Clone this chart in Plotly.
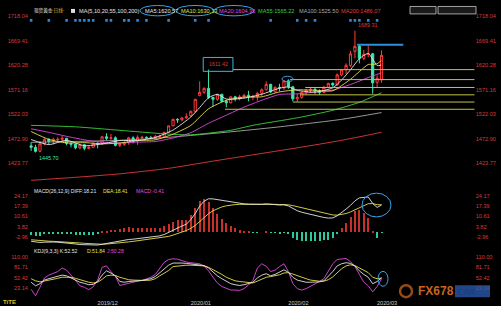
import plotly.graph_objects as go

W, H = 501, 311

# ---------------- data ----------------
bar_index = list(range(80))  # 2019-11-11 ... 2020-03-03, one bar per trading day

opens = [1459, 1456, 1448, 1463, 1472, 1468, 1471, 1472, 1474, 1464,
         1462, 1455, 1461, 1454, 1456, 1464, 1463, 1477, 1474, 1475,
         1460, 1462, 1465, 1475, 1469, 1475, 1476, 1475, 1474, 1477,
         1478, 1486, 1499, 1512, 1511, 1515, 1519, 1528, 1560, 1566,
         1574, 1556, 1552, 1562, 1548, 1545, 1557, 1553, 1557, 1560,
         1557, 1558, 1564, 1571, 1582, 1567, 1576, 1575, 1589, 1577,
         1553, 1556, 1566, 1570, 1572, 1568, 1566, 1576, 1584, 1581,
         1601, 1611, 1620, 1648, 1658, 1634, 1642, 1643, 1586, 1591]
highs = [1466, 1461, 1468, 1474, 1474, 1475, 1476, 1479, 1475, 1466,
         1464, 1463, 1463, 1458, 1466, 1466, 1479, 1484, 1483, 1478,
         1465, 1468, 1477, 1478, 1480, 1479, 1478, 1479, 1481, 1481,
         1487, 1499, 1513, 1514, 1516, 1524, 1529, 1553, 1588, 1576,
         1611.42, 1557, 1563, 1563, 1551, 1558, 1559, 1561, 1563, 1569,
         1561, 1567, 1574, 1588, 1583, 1578, 1583, 1590, 1592, 1578,
         1563, 1567, 1573, 1576, 1575, 1572, 1579, 1585, 1586, 1604,
         1612, 1624, 1649, 1689.31, 1661, 1651, 1660, 1645, 1600, 1650]
lows = [1449, 1445.70, 1446, 1460, 1462, 1462, 1466, 1467, 1460, 1456,
        1452, 1452, 1450, 1452, 1455, 1454, 1462, 1470, 1471, 1458,
        1456, 1459, 1461, 1464, 1461, 1472, 1473, 1472, 1471, 1474,
        1477, 1485, 1498, 1505, 1508, 1513, 1517, 1525, 1558, 1563,
        1553, 1537, 1549, 1546, 1536, 1544, 1548, 1550, 1556, 1548,
        1550, 1549, 1559, 1570, 1564, 1565, 1568, 1571, 1573, 1548,
        1547, 1553, 1561, 1566, 1563, 1561, 1565, 1574, 1577, 1579,
        1598, 1603, 1617, 1634, 1624, 1630, 1636, 1563, 1575, 1585]
closes = [1456, 1448, 1463, 1472, 1468, 1472, 1472, 1474, 1464, 1462,
          1455, 1461, 1454, 1456, 1464, 1463, 1477, 1474, 1475, 1460,
          1462, 1465, 1475, 1469, 1476, 1476, 1475, 1474, 1478, 1478,
          1486, 1499, 1512, 1511, 1515, 1517, 1528, 1552, 1566, 1574,
          1556, 1552, 1562, 1548, 1545, 1557, 1553, 1557, 1560, 1558,
          1558, 1564, 1571, 1582, 1567, 1576, 1575, 1589, 1577, 1553,
          1556, 1566, 1570, 1572, 1568, 1566, 1576, 1584, 1581, 1601,
          1611, 1620, 1643, 1658, 1634, 1642, 1643, 1585, 1594, 1640]

# moving averages read at sampled bars
ma5_idx = [0, 4, 8, 12, 16, 20, 24, 28, 32, 36, 38, 40, 42, 44, 48, 52, 56, 58, 60, 64, 68, 70, 72, 74, 76, 77, 78, 79]
ma5 = [1471.6, 1461.4, 1470.0, 1459.2, 1462.8, 1469.6, 1469.4, 1475.8, 1490.6, 1516.6, 1535.6, 1555.2, 1562.0, 1552.6,
       1554.4, 1562.2, 1574.2, 1576.8, 1570.0, 1566.4, 1575.0, 1590.6, 1611.2, 1633.2, 1644.0, 1632.4, 1619.6, 1620.57]
ma10_idx = [0, 4, 8, 12, 16, 20, 24, 28, 32, 36, 40, 44, 48, 52, 56, 60, 64, 68, 72, 76, 77, 78, 79]
ma10 = [1487.6, 1471.8, 1464.8, 1465.4, 1463.0, 1464.6, 1469.6, 1471.0, 1482.3, 1499.8, 1533.0, 1550.0, 1556.4,
        1557.1, 1566.8, 1571.0, 1570.2, 1569.2, 1592.2, 1621.7, 1621.8, 1623.1, 1630.13]
ma20_idx = [0, 4, 8, 12, 16, 19, 24, 28, 32, 36, 40, 44, 48, 52, 56, 60, 64, 68, 72, 76, 79]
ma20 = [1493, 1486, 1478, 1471, 1466, 1464.5, 1466.5, 1467.6, 1474.7, 1485.3, 1504.1, 1520.2, 1536.4, 1550.2,
        1561.7, 1563.0, 1566.5, 1570.5, 1581.7, 1595.5, 1604.95]
ma55_idx = [0, 10, 20, 30, 36, 45, 50, 60, 68, 74, 79]
ma55 = [1500, 1497, 1490, 1483, 1481, 1490, 1500, 1515, 1530, 1546, 1565.22]
ma100_idx = [0, 20, 31, 45, 55, 70, 79]
ma100 = [1466, 1470, 1476, 1487, 1496, 1512, 1525.50]
ma200_idx = [0, 10, 20, 31, 40, 50, 60, 70, 79]
ma200 = [1390, 1396, 1403, 1414, 1427, 1441, 1455, 1470, 1486.07]

# MACD(26,12,9)
diff = [-6.0, -6.6, -6.8, -6.6, -6.4, -6.5, -6.6, -6.8, -7.0, -7.4,
        -7.8, -8.2, -8.4, -8.6, -8.7, -8.5, -8.0, -7.4, -6.9, -6.6,
        -6.0, -5.4, -4.8, -4.6, -4.2, -3.9, -3.6, -3.3, -2.9, -2.4,
        -1.5, 0.0, 1.6, 3.0, 4.2, 5.4, 8.5, 12.5, 17.5, 20.8,
        22.4, 22.3, 21.8, 21.2, 20.6, 20.3, 19.8, 19.3, 19.0, 18.8,
        18.6, 18.6, 18.7, 19.0, 18.5, 18.5, 18.2, 18.4, 17.6, 15.8,
        14.4, 13.4, 12.6, 11.9, 11.2, 10.5, 9.9, 9.5, 9.6, 11.0,
        13.0, 15.5, 18.0, 21.0, 23.0, 23.3, 23.6, 19.3, 16.6, 18.21]
dea = [-5.0, -5.32, -5.62, -5.82, -5.94, -6.05, -6.16, -6.29, -6.43, -6.62,
       -6.86, -7.13, -7.38, -7.62, -7.84, -7.97, -7.98, -7.86, -7.67, -7.46,
       -7.17, -6.82, -6.42, -6.06, -5.69, -5.33, -4.98, -4.64, -4.29, -3.91,
       -3.43, -2.74, -1.87, -0.90, 0.12, 1.18, 2.64, 4.61, 7.19, 9.91,
       12.41, 14.39, 15.87, 16.94, 17.67, 18.20, 18.52, 18.68, 18.74, 18.75,
       18.72, 18.70, 18.70, 18.76, 18.71, 18.67, 18.58, 18.54, 18.35, 17.84,
       17.15, 16.40, 15.64, 14.89, 14.15, 13.42, 12.72, 12.07, 11.58, 11.46,
       11.77, 12.52, 13.61, 15.09, 16.67, 18.00, 19.12, 19.16, 18.45, 18.41]
macd_hist = [-2.0, -2.6, -2.4, -1.6, -0.9, -0.9, -0.9, -1.0, -1.1, -1.6,
             -1.9, -2.1, -2.0, -2.0, -1.7, -1.1, 0.2, 0.9, 1.5, 1.7,
             2.3, 2.8, 3.2, 2.9, 3.0, 2.9, 2.8, 2.7, 2.8, 3.0,
             3.9, 5.5, 6.9, 7.8, 8.2, 8.4, 11.7, 15.8, 20.6, 21.8,
             20.0, 15.8, 11.9, 8.5, 5.9, 4.2, 2.6, 1.2, 0.5, 0.1,
             -0.2, -0.2, 0.0, 0.5, -0.4, -0.3, -0.8, -0.3, -1.5, -4.1,
             -5.5, -6.0, -6.1, -6.0, -5.9, -5.8, -5.6, -5.1, -4.0, -0.9,
             2.5, 6.0, 10.0, 14.0, 15.0, 12.5, 9.5, 0.3, -3.7, -0.41]

# KDJ(9,3,3)
k_line = [40, 30, 36, 46, 50, 54, 57, 60, 58, 52, 46, 40, 37, 33, 34, 42, 60, 72, 66, 58,
          42, 40, 42, 44, 44, 45, 47, 50, 56, 66, 78, 88, 94, 95, 94, 93, 92, 90, 89, 87,
          80, 68, 58, 50, 42, 36, 33, 31, 33, 36, 40, 52, 60, 64, 58, 62, 68, 75, 68, 54,
          46, 42, 40, 40, 40, 41, 44, 56, 70, 86, 92, 95, 93, 86, 72, 62, 54, 36, 42, 52.52]
d_line = [50, 44, 41, 43, 45, 48, 51, 54, 55, 54, 51, 47, 44, 40, 38, 40, 48, 58, 60, 59,
          54, 50, 47, 46, 45, 45, 45, 46, 50, 58, 65, 73, 84, 86, 87, 88, 88, 87, 86, 86,
          82, 76, 70, 62, 54, 48, 44, 42, 40, 38, 38, 43, 49, 54, 56, 58, 61, 66, 67, 63,
          58, 54, 50, 46, 44, 43, 43, 47, 55, 66, 78, 86, 89, 87, 81, 74, 67, 54, 50, 51.84]
j_line = [20, 2, 26, 52, 60, 66, 70, 80, 74, 60, 44, 30, 26, 19, 27, 46, 82, 86, 70, 56,
          31, 34, 38, 42, 43, 45, 50, 54, 62, 78, 96, 104, 106, 105, 100, 97, 95, 93, 92, 85,
          72, 54, 38, 28, 22, 18, 18, 17, 22, 32, 45, 80, 92, 85, 70, 74, 84, 92, 70, 36,
          22, 18, 22, 28, 34, 42, 50, 72, 92, 104, 106, 107, 98, 84, 62, 40, 30, 13, 28, 50.28]

event_bars = [0, 4, 8, 10, 11, 12, 13, 14, 17, 18, 21, 22, 24, 26, 31, 37, 40, 54, 60, 62, 64, 72, 73, 74, 76, 78]

level_prices = [1611.42, 1591.5, 1575.7, 1561.0, 1546.6, 1532.1]
level_start_bar = [45.5, 58.4, 61.8, 60.6, 59.0, 43.7]

month_tick_bar = [15, 36, 58, 78]
month_tick_text = ["2019/12", "2020/01", "2020/02", "2020/03"]
price_ticks = [1718.04, 1669.41, 1620.28, 1571.16, 1522.03, 1472.90, 1423.77]
macd_ticks = [24.17, 17.39, 10.61, 3.82, -2.96]
kdj_ticks = [110.00, 81.71, 52.42, 23.14]

# ---------------- geometry helpers ----------------
def fx(p):
    return p / W

def fy(p):
    return 1 - p / H

BAR0_PX, BAR_PX = 31.1, 4.436
X_RANGE = [-0.5, 100]
x_dom = [fx(BAR0_PX + X_RANGE[0] * BAR_PX), fx(BAR0_PX + X_RANGE[1] * BAR_PX)]

K_PRICE = 0.5048  # px per price unit
def price_at(p):
    return 1669.41 - (p - 38) / K_PRICE
PRICE_RANGE = [price_at(183), price_at(13)]
K_MACD = 41 / 27.13
MACD_RANGE = [-2.96 - (246 - 236) / K_MACD, 24.17 + (195 - 186) / K_MACD]
K_KDJ = 21 / 58.57
KDJ_RANGE = [81.71 - (298 - 267) / K_KDJ, 81.71 + (267 - 252) / K_KDJ]

FONT = "Liberation Sans"
RED_TXT = "#d83a3a"
WHITE = "#e6e6e6"
YELLOW = "#e6e04a"
MAGENTA = "#e04ae0"
GREEN = "#3ccf3c"
GRAY = "#a8a8a8"
MA_RED = "#e03a3a"
UP = "#ff3c3c"
DOWN = "#3de6b0"
BLUE = "#3aa2e6"

fig = go.Figure()

# candles
fig.add_trace(go.Candlestick(
    x=bar_index, open=opens, high=highs, low=lows, close=closes,
    increasing=dict(line=dict(color=UP, width=1), fillcolor="#000000"),
    decreasing=dict(line=dict(color=DOWN, width=1), fillcolor=DOWN),
    whiskerwidth=0, xaxis="x", yaxis="y", hoverinfo="skip", showlegend=False))

for xs, ys, col in [(ma200_idx, ma200, MA_RED), (ma100_idx, ma100, GRAY), (ma55_idx, ma55, GREEN),
                    (ma20_idx, ma20, MAGENTA), (ma10_idx, ma10, YELLOW), (ma5_idx, ma5, WHITE)]:
    fig.add_trace(go.Scatter(x=xs, y=ys, mode="lines", line=dict(color=col, width=0.9, shape="spline", smoothing=0.6),
                             xaxis="x", yaxis="y", hoverinfo="skip", showlegend=False))

# event markers along the top of the price panel
fig.add_trace(go.Scatter(x=event_bars, y=[price_at(17.5)] * len(event_bars), mode="markers",
                         marker=dict(symbol="square", size=2.6, color="#2f86d6", line=dict(width=0)),
                         xaxis="x", yaxis="y", hoverinfo="skip", showlegend=False))

# right-hand copy of price axis (invisible trace so the axis renders)
fig.add_trace(go.Scatter(x=bar_index, y=closes, mode="lines", line=dict(width=0), opacity=0,
                         xaxis="x", yaxis="y4", hoverinfo="skip", showlegend=False))

# MACD
fig.add_trace(go.Bar(x=bar_index, y=macd_hist, width=0.25,
                     marker=dict(color=["#c8302c" if v >= 0 else "#2ec8a0" for v in macd_hist], line=dict(width=0)),
                     xaxis="x2", yaxis="y2", hoverinfo="skip", showlegend=False))
fig.add_trace(go.Scatter(x=bar_index, y=dea, mode="lines", line=dict(color=YELLOW, width=0.9),
                         xaxis="x2", yaxis="y2", hoverinfo="skip", showlegend=False))
fig.add_trace(go.Scatter(x=bar_index, y=diff, mode="lines", line=dict(color=WHITE, width=0.9),
                         xaxis="x2", yaxis="y2", hoverinfo="skip", showlegend=False))
fig.add_trace(go.Scatter(x=bar_index, y=diff, mode="lines", line=dict(width=0), opacity=0,
                         xaxis="x2", yaxis="y5", hoverinfo="skip", showlegend=False))

# KDJ
fig.add_trace(go.Scatter(x=bar_index, y=j_line, mode="lines", line=dict(color=MAGENTA, width=0.9),
                         xaxis="x3", yaxis="y3", hoverinfo="skip", showlegend=False))
fig.add_trace(go.Scatter(x=bar_index, y=d_line, mode="lines", line=dict(color=YELLOW, width=0.9),
                         xaxis="x3", yaxis="y3", hoverinfo="skip", showlegend=False))
fig.add_trace(go.Scatter(x=bar_index, y=k_line, mode="lines", line=dict(color=WHITE, width=0.9),
                         xaxis="x3", yaxis="y3", hoverinfo="skip", showlegend=False))
fig.add_trace(go.Scatter(x=bar_index, y=k_line, mode="lines", line=dict(width=0), opacity=0,
                         xaxis="x3", yaxis="y6", hoverinfo="skip", showlegend=False))

tickfont = dict(family=FONT, size=5.6, color=RED_TXT)
common_x = dict(range=X_RANGE, domain=x_dom, showgrid=False, zeroline=False, showline=False,
                ticks="", fixedrange=True)
fig.update_layout(
    width=W, height=H, margin=dict(l=0, r=0, t=0, b=0),
    paper_bgcolor="#000000", plot_bgcolor="#000000",
    showlegend=False, hovermode=False, bargap=0,
    xaxis=dict(common_x, anchor="y", showticklabels=False, rangeslider=dict(visible=False)),
    xaxis2=dict(common_x, anchor="y2", showticklabels=False, matches="x"),
    xaxis3=dict(common_x, anchor="y3", matches="x", showticklabels=True, tickmode="array",
                tickvals=month_tick_bar, ticktext=month_tick_text, ticklabelshift=10,
                tickfont=dict(family=FONT, size=5.6, color="#c8c8c8")),
    yaxis=dict(domain=[fy(183), fy(13)], range=PRICE_RANGE, anchor="x", side="left",
               tickmode="array", tickvals=price_ticks, ticktext=[f"{v:.2f}" for v in price_ticks],
               tickfont=tickfont, showgrid=False, zeroline=False, ticks="", fixedrange=True),
    yaxis4=dict(range=PRICE_RANGE, overlaying="y", anchor="x", side="right",
                tickmode="array", tickvals=price_ticks, ticktext=[f"{v:.2f}" for v in price_ticks],
                tickfont=tickfont, showgrid=False, zeroline=False, ticks="", fixedrange=True),
    yaxis2=dict(domain=[fy(246), fy(186)], range=MACD_RANGE, anchor="x2", side="left",
                tickmode="array", tickvals=macd_ticks, ticktext=[f"{v:.2f}" for v in macd_ticks],
                tickfont=tickfont, showgrid=False, zeroline=False, ticks="", fixedrange=True),
    yaxis5=dict(range=MACD_RANGE, overlaying="y2", anchor="x2", side="right",
                tickmode="array", tickvals=macd_ticks, ticktext=[f"{v:.2f}" for v in macd_ticks],
                tickfont=tickfont, showgrid=False, zeroline=False, ticks="", fixedrange=True),
    yaxis3=dict(domain=[fy(298), fy(252)], range=KDJ_RANGE, anchor="x3", side="left",
                tickmode="array", tickvals=kdj_ticks, ticktext=[f"{v:.2f}" for v in kdj_ticks],
                tickfont=tickfont, showgrid=False, zeroline=False, ticks="", fixedrange=True),
    yaxis6=dict(range=KDJ_RANGE, overlaying="y3", anchor="x3", side="right",
                tickmode="array", tickvals=kdj_ticks, ticktext=[f"{v:.2f}" for v in kdj_ticks],
                tickfont=tickfont, showgrid=False, zeroline=False, ticks="", fixedrange=True),
)

shapes = []
# horizontal support / resistance levels
for lv, sb in zip(level_prices, level_start_bar):
    shapes.append(dict(type="line", xref="x", yref="y", x0=sb, x1=X_RANGE[1], y0=lv, y1=lv,
                       line=dict(color="#c2c24a", width=1)))
# blue marker line near the top
shapes.append(dict(type="line", xref="x", yref="y", x0=73.5, x1=83.9, y0=1661.3, y1=1661.3,
                   line=dict(color="#2f8fe0", width=2)))
# box around the 1611.42 label
shapes.append(dict(type="rect", xref="x", yref="y", x0=38.8, x1=45.5, y0=price_at(69), y1=price_at(55),
                   line=dict(color="#3ab4e6", width=1), fillcolor="rgba(0,0,0,0)"))
# ellipses drawn by the author
shapes.append(dict(type="circle", xref="paper", yref="paper", x0=fx(282), x1=fx(293), y0=fy(79.5), y1=fy(74),
                   line=dict(color=BLUE, width=1)))
shapes.append(dict(type="circle", xref="paper", yref="paper", x0=fx(362), x1=fx(391), y0=fy(216), y1=fy(192),
                   line=dict(color=BLUE, width=1)))
shapes.append(dict(type="circle", xref="paper", yref="paper", x0=fx(378), x1=fx(388), y0=fy(286), y1=fy(271),
                   line=dict(color=BLUE, width=1)))
for a, b in [(140, 175), (176, 214), (214, 254)]:
    shapes.append(dict(type="circle", xref="paper", yref="paper", x0=fx(a), x1=fx(b), y0=fy(13), y1=fy(2.5),
                       line=dict(color=BLUE, width=1)))
# header icon and buttons
shapes.append(dict(type="rect", xref="paper", yref="paper", x0=fx(71), x1=fx(75), y0=fy(10), y1=fy(6),
                   line=dict(width=0), fillcolor="#e0e0e0"))
for a, b in [(410, 436), (438, 476)]:
    shapes.append(dict(type="rect", xref="paper", yref="paper", x0=fx(a), x1=fx(b), y0=fy(11), y1=fy(3.5),
                       line=dict(color="#c8c8c8", width=0.8), fillcolor="#1a1a1a"))
# watermark pieces
shapes.append(dict(type="circle", xref="paper", yref="paper", x0=fx(400), x1=fx(412), y0=fy(297), y1=fy(285),
                   line=dict(color="#c8641e", width=2.5), opacity=0.75))
shapes.append(dict(type="rect", xref="paper", yref="paper", x0=fx(455), x1=fx(490), y0=fy(297), y1=fy(285),
                   line=dict(width=0), fillcolor="#2d5fb5", opacity=0.75))
# white bottom strip
shapes.append(dict(type="rect", xref="paper", yref="paper", x0=0, x1=1, y0=0, y1=fy(306),
                   line=dict(width=0), fillcolor="#ffffff"))
fig.update_layout(shapes=shapes)

ann = []
def txt(x, y, s, color, size=5.6, xanchor="left", yanchor="middle", bold=False, family=FONT):
    ann.append(dict(xref="paper", yref="paper", x=fx(x), y=fy(y), text=(f"<b>{s}</b>" if bold else s),
                    showarrow=False, xanchor=xanchor, yanchor=yanchor,
                    font=dict(family=family, size=size, color=color)))

# header
txt(32, 8, "现货黄金", WHITE, size=4.6, family="Noto Sans CJK SC")
txt(50, 8, "-日线-", "#e8b030", size=4.6, family="Noto Sans CJK SC")
txt(77, 8, "MA(5,10,20,55,100,200)", WHITE)
txt(143, 8, "MA5:1620.57", WHITE)
txt(179, 8, "MA10:1630.13", YELLOW)
txt(217, 8, "MA20:1604.95", MAGENTA)
txt(256, 8, "MA55:1565.22", GREEN)
txt(297, 8, "MA100:1525.50", GRAY)
txt(339, 8, "MA200:1486.07", MA_RED)

# price annotations
ann.append(dict(xref="x", yref="y", x=(38.8 + 45.5) / 2, y=price_at(62), text="1611.42", showarrow=False,
                xanchor="center", yanchor="middle", font=dict(family=FONT, size=5.4, color=RED_TXT)))
ann.append(dict(xref="x", yref="y", x=73, y=1689.31, text="1689.31", showarrow=False, xshift=1, yshift=1,
                xanchor="left", yanchor="bottom", font=dict(family=FONT, size=5.4, color=RED_TXT)))
ann.append(dict(xref="x", yref="y", x=1, y=1445.70, text="1445.70", showarrow=False, xshift=1, yshift=-1,
                xanchor="left", yanchor="top", font=dict(family=FONT, size=5.4, color=DOWN)))

# indicator headers
txt(32, 190, "MACD(26,12,9) DIFF:18.21", WHITE, size=5.1)
txt(101, 190, "DEA:18.41", YELLOW, size=5.1)
txt(134, 190, "MACD:-0.41", MAGENTA, size=5.1)
txt(32, 250.5, "KDJ(9,3,3) K:52.52", WHITE, size=5.1)
txt(85, 250.5, "D:51.84", YELLOW, size=5.1)
txt(105, 250.5, "J:50.28", MAGENTA, size=5.1)

# watermark
txt(416, 291, "FX678", "#c8641e", size=12, bold=True)
txt(466, 291, "汇通网", "#163a80", size=6, xanchor="center", family="Noto Sans CJK SC")
# bottom-left logo text
txt(1, 302, "TiTE", "#e0c020", size=6, bold=True)

fig.update_layout(annotations=ann)
fig.write_html("out.html")
